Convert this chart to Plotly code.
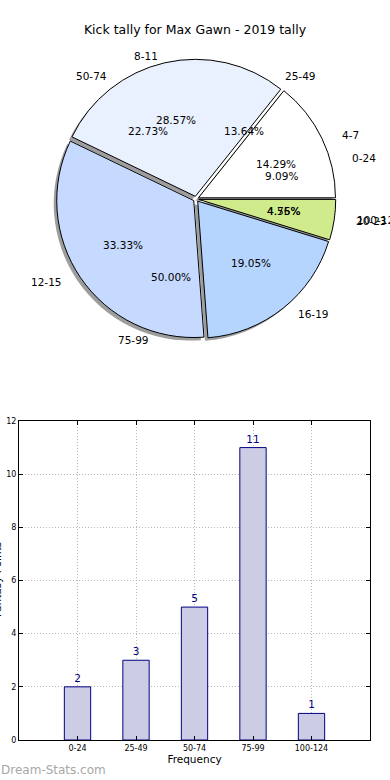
import math
import plotly.graph_objects as go

# ---------------- data ----------------
score_labels = ["0-24", "25-49", "50-74", "75-99", "100-124"]
score_counts = [2, 3, 5, 11, 1]

kick_labels = ["4-7", "8-11", "12-15", "16-19", "20-23"]
kick_counts = [3, 6, 7, 4, 1]

title_text = "Kick tally for Max Gawn - 2019 tally"
y_ticks = [0, 2, 4, 6, 8, 10, 12]

# ---------------- styles ----------------
kick_colors = ["#ffffff", "#eaf1fe", "#c6d9fe", "#b5d5fe", "#d0eb8b"]
bar_fill = "rgb(204,204,229)"
navy = "#000080"
FONT = "DejaVu Sans"

W, H = 390, 780
CX, CY = 196, 199          # pie centre (px)
R = 137                     # pie radius (px)
PULL = 0.02
RX, RY = 143, 131           # text ellipse radii (px)


def px(x):
    return x / W


def py(y):
    return 1 - y / H


fig = go.Figure()

half = R * (1 + PULL)
dom = dict(x=[px(CX - half), px(CX + half)], y=[py(CY + half), py(CY - half)])
sdx, sdy = -3, 3
shadow_dom = dict(x=[px(CX - half + sdx), px(CX + half + sdx)],
                  y=[py(CY + half + sdy), py(CY - half + sdy)])

# plotly's counterclockwise pies end the first slice at `rotation`;
# start the first slice at 3 o'clock like the reference
first_frac = kick_counts[0] / sum(kick_counts)
rot = 90 - 360 * first_frac

common = dict(sort=False, direction="counterclockwise", rotation=rot,
              pull=PULL, textinfo="none", hoverinfo="skip", showlegend=False)

# shadow
fig.add_trace(go.Pie(labels=kick_labels, values=kick_counts, domain=shadow_dom,
                     marker=dict(colors=["rgba(60,60,60,0.5)"] * len(kick_counts),
                                 line=dict(width=0)), **common))
# kick pie
fig.add_trace(go.Pie(labels=kick_labels, values=kick_counts, domain=dom,
                     marker=dict(colors=kick_colors, line=dict(color="black", width=1)),
                     **common))

annotations = []


def add_pie_text(labels, counts):
    total = sum(counts)
    start = 0.0
    for lab, c in zip(labels, counts):
        frac = c / total
        mid = (start + frac / 2) * 2 * math.pi
        start += frac
        cs, sn = math.cos(mid), math.sin(mid)
        lx = CX + (1.1 + PULL) * RX * cs
        ly = CY - (1.1 + PULL) * RY * sn
        annotations.append(dict(x=px(lx), y=py(ly), xref="paper", yref="paper",
                                text=lab, showarrow=False,
                                xanchor="left" if cs > 0 else "right", yanchor="middle",
                                font=dict(family=FONT, size=10.5, color="black")))
        tx = CX + (0.6 + PULL) * RX * cs
        ty = CY - (0.6 + PULL) * RY * sn
        annotations.append(dict(x=px(tx), y=py(ty), xref="paper", yref="paper",
                                text="%.2f%%" % (frac * 100), showarrow=False,
                                xanchor="center", yanchor="middle",
                                font=dict(family=FONT, size=10.5, color="black")))


add_pie_text(score_labels, score_counts)
add_pie_text(kick_labels, kick_counts)

# ---------------- bar chart ----------------
fig.add_trace(go.Bar(x=score_labels, y=score_counts, width=0.45,
                     marker=dict(color=bar_fill, line=dict(color=navy, width=1)),
                     text=[str(v) for v in score_counts], textposition="outside",
                     textfont=dict(family=FONT, size=10.5, color=navy),
                     cliponaxis=False, hoverinfo="skip", showlegend=False,
                     xaxis="x", yaxis="y"))

annotations.append(dict(x=px(-3), y=py(580), xref="paper", yref="paper",
                        text="Fantasy Points", textangle=-90, showarrow=False,
                        xanchor="center", yanchor="middle",
                        font=dict(family=FONT, size=10.5, color="black")))
annotations.append(dict(x=px(-1), y=py(770), xref="paper", yref="paper",
                        text="Dream-Stats.com", showarrow=False,
                        xanchor="left", yanchor="middle",
                        font=dict(family=FONT, size=12, color="#a8a8a8")))

grid_style = dict(showgrid=True, gridcolor="#b8b8b8", griddash="1px,2px", gridwidth=1)

fig.update_layout(
    width=W, height=H,
    margin=dict(l=0, r=0, t=0, b=0, autoexpand=False),
    paper_bgcolor="white", plot_bgcolor="white",
    showlegend=False,
    font=dict(family=FONT, color="black"),
    title=dict(text=title_text, x=0.5, xanchor="center", y=py(30), yanchor="middle",
               font=dict(family=FONT, size=12.5, color="black")),
    xaxis=dict(domain=[px(19), px(370)], anchor="y", range=[-1, 5],
               showline=True, linecolor="black", linewidth=1, mirror="ticks",
               ticks="inside", ticklen=4, tickcolor="black", automargin=False,
               tickfont=dict(family=FONT, size=8, color="black"),
               title=dict(text="Frequency", standoff=4,
                          font=dict(family=FONT, size=10.5, color="black")),
               zeroline=False, fixedrange=True, **grid_style),
    yaxis=dict(domain=[py(740), py(421)], anchor="x", range=[0, 12],
               tickvals=y_ticks, ticktext=[str(v) for v in y_ticks],
               showline=True, linecolor="black", linewidth=1, mirror="ticks",
               ticks="inside", ticklen=4, tickcolor="black", automargin=False,
               tickfont=dict(family=FONT, size=8, color="black"),
               zeroline=False, fixedrange=True, **grid_style),
    annotations=annotations,
)

fig.write_html("out.html",
               config={"displayModeBar": False, "staticPlot": True},
               post_script="document.body.style.margin='0';document.body.style.overflow='hidden';")
